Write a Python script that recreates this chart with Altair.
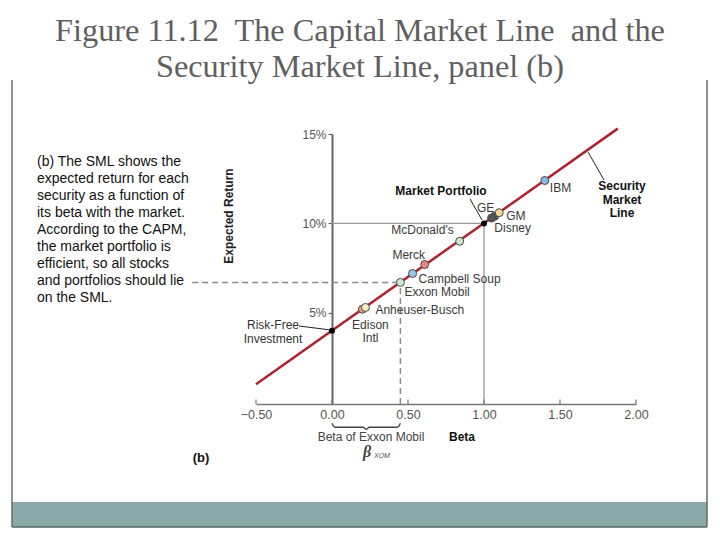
import altair as alt
import pandas as pd

# ---------------- data ----------------
stock_names = ["Edison Intl", "Anheuser-Busch", "Exxon Mobil", "Campbell Soup", "Merck",
               "McDonald's", "Disney", "GE", "GM", "IBM"]
stock_betas = [0.20, 0.22, 0.45, 0.53, 0.61, 0.84, 1.07, 1.05, 1.10, 1.40]
stock_returns = [5.2, 5.3, 6.7, 7.2, 7.7, 9.0, 10.4, 10.3, 10.6, 12.4]
stock_colors = ["#E89C80", "#F5EBC0", "#CBE9CF", "#94C6EA", "#E8877A",
                "#CBE8C6", "#555555", "#555555", "#F4D89C", "#8AB6E6"]

sml_beta = [-0.50, 1.88]
sml_return = [1.0, 15.3]

key_names = ["Risk-Free Investment", "Market Portfolio"]
key_betas = [0.0, 1.0]
key_returns = [4.0, 10.0]

x_ticks = [-0.5, 0.0, 0.5, 1.0, 1.5, 2.0]
y_ticks = [5, 10, 15]

title_lines = ["Figure 11.12\u00a0 The Capital Market Line\u00a0 and the",
               "Security Market Line, panel (b)"]
desc_lines = ["(b) The SML shows the", "expected return for each", "security as a function of",
              "its beta with the market.", "According to the CAPM,", "the market portfolio is",
              "efficient, so all stocks", "and portfolios should lie", "on the SML."]

# ---------------- layout ----------------
X0, Y0 = 256, 134          # screen position of plot-area origin
W, H = 380, 270
def px(sx): return sx - X0
def py(sy): return sy - Y0

xs = alt.Scale(domain=[-0.5, 2.0], nice=False, zero=False)
ys = alt.Scale(domain=[-0.1, 15], nice=False, zero=False)
SANS = "Liberation Sans"
ONE = alt.Data(values=[{"k": 1}])

x_axis = alt.Axis(values=x_ticks, ticks=False, grid=False, title=None,
                  labelExpr="datum.value < 0 ? '\u2212' + format(-datum.value, '.2f') : format(datum.value, '.2f')",
                  domainColor="#777", domainWidth=1.5, labelColor="#555", labelFontSize=12.5,
                  labelFont=SANS, labelPadding=4, labelFlush=False, labelOverlap=False)
y_axis = alt.Axis(values=y_ticks, grid=False, title=None, offset=-76,
                  labelExpr="datum.value + '%'", tickSize=4, tickColor="#666", tickWidth=1.2,
                  domainColor="#666", domainWidth=2, labelColor="#555", labelFontSize=12,
                  labelFont=SANS, labelPadding=2, labelFlush=False)

xom_beta = stock_betas[stock_names.index("Exxon Mobil")]
xom_ret = stock_returns[stock_names.index("Exxon Mobil")]

df_stocks = pd.DataFrame({"name": stock_names, "beta": stock_betas,
                          "ret": stock_returns, "color": stock_colors})
df_sml = pd.DataFrame({"beta": sml_beta, "ret": sml_return})
df_key = pd.DataFrame({"name": key_names, "beta": key_betas, "ret": key_returns})


def xq(f="beta"):
    return alt.X(f"{f}:Q", scale=xs, axis=x_axis)


def yq(f="ret"):
    return alt.Y(f"{f}:Q", scale=ys, axis=y_axis)


def note(text, sx, sy, size=12, weight="normal", color="#333", align="center",
         baseline="middle", font=SANS, style="normal", angle=None, line_height=None):
    kw = dict(text=text, fontSize=size, fontWeight=weight, color=color, align=align,
              baseline=baseline, font=font, fontStyle=style)
    if angle is not None:
        kw["angle"] = angle
    if "\n" in text:
        kw["lineBreak"] = "\n"
        kw["lineHeight"] = line_height
    return alt.Chart(ONE).mark_text(**kw).encode(x=alt.value(px(sx)), y=alt.value(py(sy)))


def seg(sx1, sy1, sx2, sy2, color="#333", width=1.0):
    return alt.Chart(ONE).mark_rule(color=color, strokeWidth=width).encode(
        x=alt.value(px(sx1)), y=alt.value(py(sy1)), x2=alt.value(px(sx2)), y2=alt.value(py(sy2)))


# ---------------- frame ----------------
band = alt.Chart(ONE).mark_rect(color="#8AAAA9").encode(
    x=alt.value(px(12)), x2=alt.value(px(707)), y=alt.value(py(502)), y2=alt.value(py(527)))
frame = [seg(12, 80, 12, 527, "#6a6a6a", 1.5), seg(707, 80, 707, 527, "#6a6a6a", 1.5),
         seg(12, 527, 707, 527, "#566766", 1.5)]

# ---------------- chart marks ----------------
sml = alt.Chart(df_sml).mark_line(color="#B0202E", strokeWidth=2.5).encode(x=xq(), y=yq())

df_ticks = pd.DataFrame({"beta": x_ticks, "ret": [-0.1] * len(x_ticks), "ret2": [0.15] * len(x_ticks)})
x_tick_marks = alt.Chart(df_ticks).mark_rule(color="#777", strokeWidth=1.2).encode(
    x=xq(), y=yq(), y2="ret2:Q")

# guide lines to the market portfolio
mb, mr = key_betas[1], key_returns[1]
df_guides = pd.DataFrame({"beta": [0.0, mb], "beta2": [mb, mb], "ret": [mr, -0.1], "ret2": [mr, mr]})
guides = alt.Chart(df_guides).mark_rule(color="#999", strokeWidth=1.3).encode(
    x=xq(), x2="beta2:Q", y=yq(), y2="ret2:Q")

# dashed guides to Exxon Mobil
dash_start = -0.92
df_dash = pd.DataFrame({"beta": [dash_start, xom_beta], "beta2": [xom_beta, xom_beta],
                        "ret": [xom_ret, -0.1], "ret2": [xom_ret, xom_ret]})
dashes = alt.Chart(df_dash).mark_rule(color="#8a8a8a", strokeWidth=1.5, strokeDash=[6, 4]).encode(
    x=xq(), x2="beta2:Q", y=yq(), y2="ret2:Q")

# brace under the axis spanning 0 .. beta_XOM
h = xom_beta / 2
brace_b = [0.0, 0.01, 0.025, h - 0.02, h, h + 0.02, xom_beta - 0.025, xom_beta - 0.01, xom_beta]
brace_r = [-1.18, -1.34, -1.40, -1.40, -1.52, -1.40, -1.40, -1.34, -1.18]
brace = alt.Chart(pd.DataFrame({"beta": brace_b, "ret": brace_r})).mark_line(
    color="#444", strokeWidth=1.3, interpolate="monotone").encode(x=xq(), y=yq())

# points
pts = alt.Chart(df_stocks).mark_circle(size=64, stroke="#4a4a4a", strokeWidth=1, opacity=1).encode(
    x=xq(), y=yq(), color=alt.Color("color:N", scale=None))
kpts = alt.Chart(df_key).mark_circle(size=36, color="#000", opacity=1).encode(x=xq(), y=yq())

# stock labels (offsets from each point, pixels)
label_layout = {
    "Edison Intl": dict(dx=8, dy=20, align="center", baseline="alphabetic", lineBreak=" ", lineHeight=13),
    "Anheuser-Busch": dict(dx=10, dy=3, align="left"),
    "Exxon Mobil": dict(dx=4, dy=10, align="left"),
    "Campbell Soup": dict(dx=6, dy=6, align="left"),
    "Merck": dict(dx=-16, dy=-10, align="center"),
    "McDonald's": dict(dx=-6, dy=-11, align="right"),
    "Disney": dict(dx=18, dy=12, align="center"),
    "GE": dict(dx=-6, dy=-10, align="center"),
    "GM": dict(dx=7, dy=3, align="left"),
    "IBM": dict(dx=5, dy=8, align="left"),
}
labels = []
for n in stock_names:
    kw = dict(baseline="middle", font=SANS, fontSize=12, color="#3a3a3a")
    kw.update(label_layout[n])
    labels.append(alt.Chart(df_stocks[df_stocks["name"] == n]).mark_text(**kw).encode(
        x=xq(), y=yq(), text="name:N"))

# ---------------- annotations ----------------
notes = [
    note("\n".join(title_lines), 360, 41, size=32.3, color="#5f5f5f", font="Liberation Serif",
         baseline="alphabetic", line_height=36),
    note("\n".join(desc_lines), 37, 166, size=14, color="#111", align="left",
         baseline="alphabetic", line_height=17),
    note("Expected Return", 229, 216, size=12, weight="bold", color="#222", angle=270),
    note("Market Portfolio", 441, 191, size=12, weight="bold", color="#111"),
    note("Security\nMarket\nLine", 622, 190, size=12, weight="bold", color="#111",
         baseline="alphabetic", line_height=13.5),
    note("Risk-Free\nInvestment", 273, 329, size=12, color="#333", baseline="alphabetic", line_height=14),
    note("Beta of Exxon Mobil", 371, 437, size=12, color="#444"),
    note("Beta", 462, 437, size=12, weight="bold", color="#111"),
    note("\u03b2", 367, 452, size=16, weight="bold", style="italic", color="#444",
         font="Liberation Serif"),
    note("XOM", 374, 456, size=7, style="italic", color="#555", align="left"),
    note("(b)", 201, 458, size=13, weight="bold", color="#111"),
]
leaders = [seg(470, 199, 482, 220, "#222", 1.0),
           seg(299, 326, 331, 330, "#222", 1.0),
           seg(588, 152, 604, 180, "#222", 1.0)]

chart = alt.layer(
    band, *frame, guides, dashes, x_tick_marks, sml, brace, *leaders, pts, kpts, *labels, *notes
).properties(
    width=W, height=H,
    autosize=alt.AutoSizeParams(type="none"),
    padding={"left": X0 - 8, "top": Y0 - 8, "right": 704 - (X0 - 8) - W, "bottom": 524 - (Y0 - 8) - H},
).configure_view(stroke=None)

chart.save("out.html", embed_options={"renderer": "svg", "actions": False})
